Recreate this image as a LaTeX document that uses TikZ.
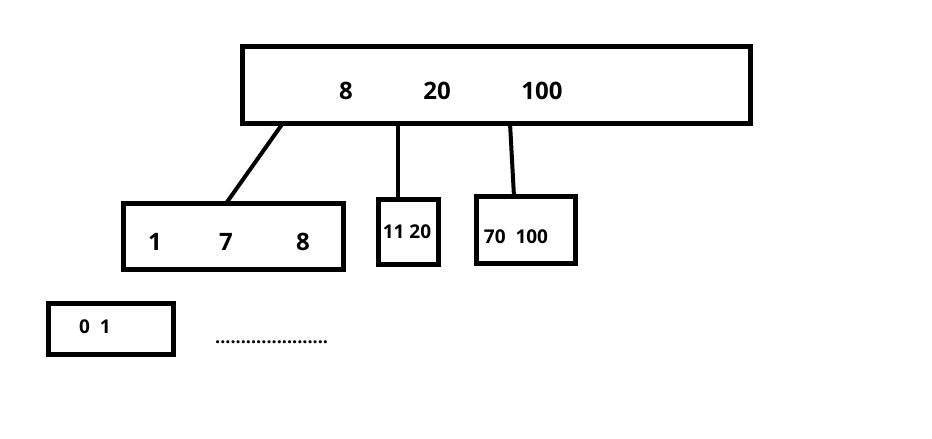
\documentclass[tikz,border=0pt]{standalone}
\usepackage{fontspec}
\setmainfont{Open Sans}
\usepackage{tikz}
\usetikzlibrary{calc}
\tikzset{
  keybox/.style={draw=black, line width=5pt, fill=white, inner sep=0pt, outer sep=0pt},
  keytext/.style={font=\fontsize{24}{27}\selectfont\bfseries, inner sep=0pt},
  smallkey/.style={font=\fontsize{19}{22}\selectfont\bfseries, inner sep=0pt},
  link/.style={draw=black, line width=4pt}
}

\begin{document}
\begin{tikzpicture}[x=1pt, y=-1pt]
  \useasboundingbox (0,0) rectangle (932,439);

  % root
  \node[keybox, minimum width=508pt, minimum height=77pt] (root) at (496,84.5) {};
  \node[keytext] (r8) at (346,91) {8};
  \node[keytext] (r20) at (437,91) {20};
  \node[keytext] (r100) at (542,91) {100};

  % children
  \node[keybox, minimum width=220pt, minimum height=66pt] (leafa) at (233.5,236.5) {};
  \node[keytext] (a1) at (155,242) {1};
  \node[keytext] (a7) at (226,242) {7};
  \node[keytext] (a8) at (303,242) {8};

  \node[keybox, minimum width=60pt, minimum height=65pt] (leafb) at (408.5,232) {};
  \node[smallkey] (b1) at (407,232) {11 20};

  \node[keybox, minimum width=99pt, minimum height=67pt] (leafc) at (526,230) {};
  \node[smallkey] (c1) at (516,237) {70\ \ 100};

  \node[keybox, minimum width=125pt, minimum height=51pt] (leafd) at (111,329) {};
  \node[smallkey] (d1) at (95,327) {0\ \ 1};

  \node[font=\fontsize{18}{20}\selectfont\bfseries, inner sep=0pt, anchor=base west] (more) at (215,343) {......................};

  % links
  \coordinate (pa) at (283,123);
  \coordinate (pb) at (398,123);
  \coordinate (pc) at (510,123);
  \draw[link] (pa) -- (leafa.north -| a7);
  \draw[link] (pb) -- (pb |- leafb.north);
  \draw[link] (pc) -- ($(leafc.north)+(-12,0)$);
\end{tikzpicture}
\end{document}
